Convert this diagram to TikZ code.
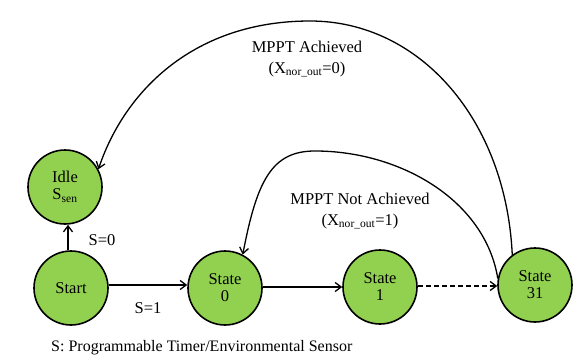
\documentclass[tikz,border=0pt]{standalone}
\usepackage{fontspec}
\setmainfont{Liberation Serif}
\usetikzlibrary{arrows.meta}
\definecolor{stgreen}{HTML}{92D050}
\begin{document}
\begin{tikzpicture}[x=1pt,y=-1pt,
  st/.style={circle,draw=black,line width=1.6pt,fill=stgreen,minimum size=74pt,inner sep=0pt,align=center,font=\fontsize{16.5}{19}\selectfont},
  lbl/.style={font=\fontsize{16.5}{19}\selectfont,align=center,inner sep=0pt},
  arr/.style={line width=1.3pt,-{Straight Barb[length=6pt,width=9pt,line width=1.3pt]}},
  arc/.style={line width=1.3pt,-{Straight Barb[length=6pt,width=9pt,line width=1.3pt]}}]
\useasboundingbox (0,0) rectangle (581,364);
\node[st] (idle) at (65,187) {Idle\\[-2pt]S\textsubscript{sen}};
\node[st] (start) at (71,288) {Start};
\node[st] (s0) at (225,288) {State\\[-2pt]0};
\node[st] (s1) at (380,287) {State\\[-2pt]1};
\node[st] (s31) at (535,285) {State\\[-2pt]31};
\draw[arr] (start.north -| 68,0) -- (idle.south -| 68,0);
\draw[arr] (start.east |- 0,285) -- (s0.west |- 0,285);
\draw[arr] (s0.east |- 0,287) -- (s1.west |- 0,287);
\draw[arr,dashed,dash pattern=on 5pt off 3pt] (s1.east |- 0,286) -- (s31.west |- 0,286);
\coordinate (pk1) at (310,21);
\coordinate (pk2) at (315,151);
\draw[arc] (s31.127) .. controls (506,120) and (420,21) .. (pk1)
  .. controls (195,21) and (125,90) .. (idle.28);
\draw[arc] (s31.170) .. controls (485,200) and (400,151) .. (pk2)
  .. controls (272,151) and (257,180) .. (s0.62);
\node[lbl] (l0) at (102,240) {S=0};
\node[lbl] (l1) at (148,308) {S=1};
\node[lbl] (ach) at (307,59) {MPPT Achieved\\[2pt](X\textsubscript{nor\_out}=0)};
\node[lbl] (nach) at (360,211) {MPPT Not Achieved\\[2pt](X\textsubscript{nor\_out}=1)};
\node[lbl,anchor=west,font=\fontsize{16}{19}\selectfont] (note) at (51,348) {S: Programmable Timer/Environmental Sensor};
\end{tikzpicture}
\end{document}
